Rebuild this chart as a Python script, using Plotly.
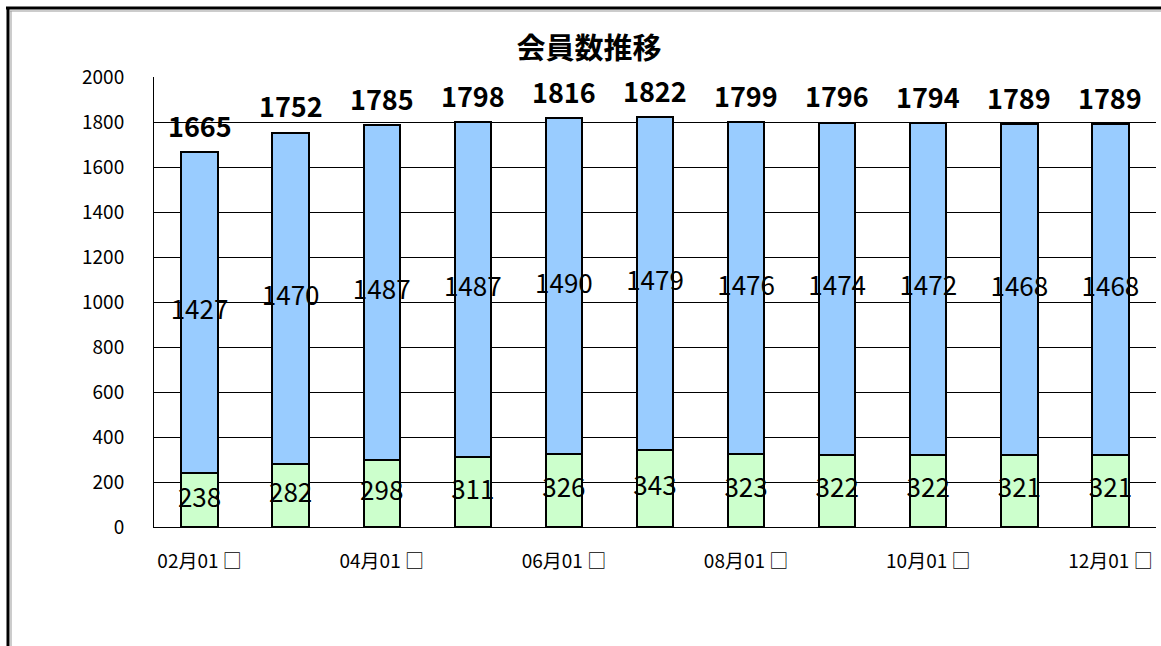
import plotly.graph_objects as go

months = ["02", "03", "04", "05", "06", "07", "08", "09", "10", "11", "12"]
categories = [m + "月01 □" for m in months]
green_vals = [238, 282, 298, 311, 326, 343, 323, 322, 322, 321, 321]
blue_vals = [1427, 1470, 1487, 1487, 1490, 1479, 1476, 1474, 1472, 1468, 1468]
totals = [g + b for g, b in zip(green_vals, blue_vals)]
tick_labels = [categories[i] for i in range(0, len(categories), 2)]
title_text = "会員数推移"

FONT = "Noto Sans CJK JP"

fig = go.Figure()
fig.add_trace(go.Bar(
    x=categories, y=green_vals, marker=dict(color="#CCFFCC", line=dict(color="black", width=2)),
    width=0.4, showlegend=False, hoverinfo="skip"))
fig.add_trace(go.Bar(
    x=categories, y=blue_vals, marker=dict(color="#99CCFF", line=dict(color="black", width=2)),
    width=0.4, showlegend=False, hoverinfo="skip"))

# segment labels (centered)
fig.add_trace(go.Scatter(
    x=categories, y=[g / 2 for g in green_vals], mode="text",
    text=[str(v) for v in green_vals], textposition="middle center",
    textfont=dict(family=FONT, size=26, color="black"), showlegend=False,
    cliponaxis=False, hoverinfo="skip"))
fig.add_trace(go.Scatter(
    x=categories, y=[g + b / 2 for g, b in zip(green_vals, blue_vals)], mode="text",
    text=[str(v) for v in blue_vals], textposition="middle center",
    textfont=dict(family=FONT, size=26, color="black"), showlegend=False,
    cliponaxis=False, hoverinfo="skip"))

annotations = []
for c, t in zip(categories, totals):
    annotations.append(dict(x=c, y=t, xref="x", yref="y", text="<b>%d</b>" % t,
                            showarrow=False, yanchor="middle", yshift=27,
                            font=dict(family=FONT, size=27, color="black")))

L, T, B = 154, 77, 119
W, H = 1161, 646
pw = 1156 - L
ph = H - B - T

def px(x):
    return (x - L) / pw

def py(y):
    return (H - B - y) / ph

shapes = [
    dict(type="line", xref="paper", yref="paper", x0=px(6), x1=px(1161), y0=py(8), y1=py(8),
         line=dict(color="black", width=3)),
    dict(type="line", xref="paper", yref="paper", x0=px(10), x1=px(1161), y0=py(11), y1=py(11),
         line=dict(color="#999999", width=1)),
    dict(type="line", xref="paper", yref="paper", x0=px(8), x1=px(8), y0=py(7), y1=py(646),
         line=dict(color="black", width=3)),
    dict(type="line", xref="paper", yref="paper", x0=px(11), x1=px(11), y0=py(11), y1=py(646),
         line=dict(color="#999999", width=1)),
]

fig.update_layout(
    width=W, height=H,
    margin=dict(l=L, r=W - 1156, t=T, b=B, pad=0),
    paper_bgcolor="white", plot_bgcolor="white",
    barmode="stack", bargap=0.6,
    title=dict(text="<b>" + title_text + "</b>", xref="container", x=589 / W, xanchor="center",
               yref="container", y=1 - 49 / H, yanchor="middle",
               font=dict(family=FONT, size=29, color="black")),
    xaxis=dict(type="category", range=[-0.5, 10.5], tickmode="array", tickvals=tick_labels,
               ticktext=tick_labels, tickfont=dict(family=FONT, size=19, color="black"),
               showgrid=False, showline=True, linecolor="black", linewidth=1,
               ticks="", ticklabelstandoff=17, tickangle=0),
    yaxis=dict(range=[0, 2000], tickmode="linear", tick0=0, dtick=200,
               tickfont=dict(family=FONT, size=19, color="black"),
               showgrid=True, gridcolor="black", gridwidth=1, zeroline=False,
               showline=True, linecolor="black", linewidth=1, mirror=False,
               ticks="", ticklabelstandoff=25),
    shapes=shapes,
    annotations=annotations,
)

fig.write_html("out.html", config={"displayModeBar": False},
               post_script="document.body.style.margin='0';document.body.style.overflow='hidden';")
